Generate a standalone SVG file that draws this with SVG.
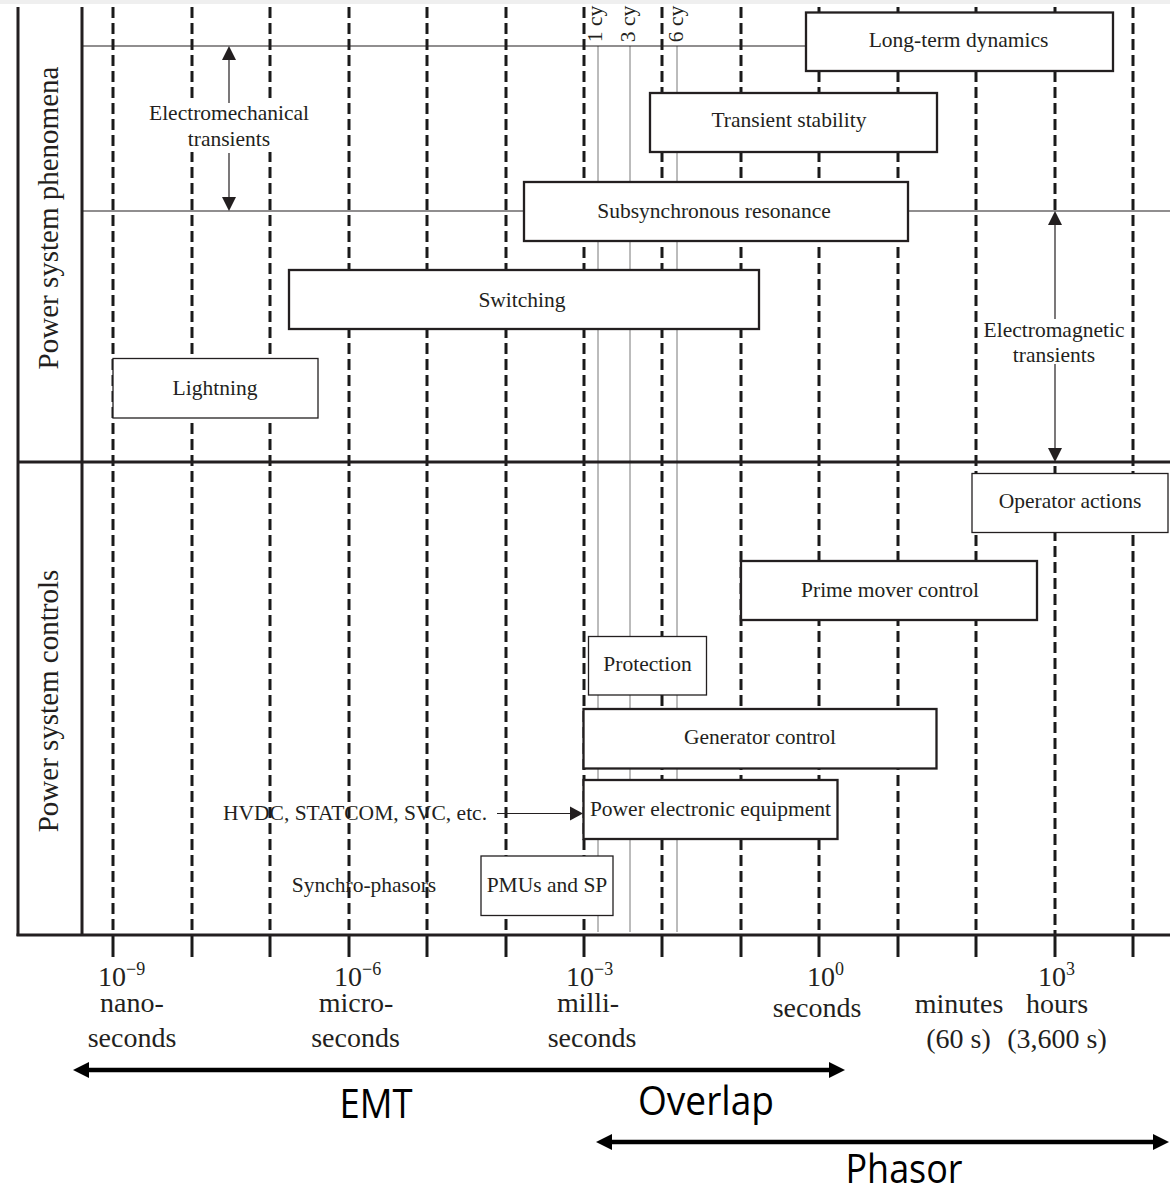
<svg xmlns="http://www.w3.org/2000/svg" width="1170" height="1192" viewBox="0 0 1170 1192">
<style>
.t{font-family:"Liberation Serif","Times New Roman",serif;font-size:21.5px;fill:#231f20;text-anchor:middle}
.ax{font-family:"Liberation Serif","Times New Roman",serif;font-size:28px;fill:#231f20;text-anchor:middle}
.axs{font-family:"Liberation Serif","Times New Roman",serif;font-size:28px;fill:#231f20}
.big{font-family:"Liberation Serif","Times New Roman",serif;font-size:29px;fill:#231f20;text-anchor:middle}
.sans{font-family:"Open Sans","Liberation Sans",sans-serif;font-size:40px;fill:#000}
.dash{stroke:#1a1a1a;stroke-width:3;stroke-dasharray:11 5;fill:none}
.tick{stroke:#1a1a1a;stroke-width:3}
.cy{stroke:#555;stroke-width:0.8}
.thin{stroke:#231f20;stroke-width:1.2;fill:none}
.heavy{stroke:#231f20;stroke-width:3;fill:none}
.bk{fill:#fff;stroke:#231f20;stroke-width:2.3}
.bl{fill:#fff;stroke:#231f20;stroke-width:1.3}
.ar{fill:#231f20}
</style>
<rect x="0" y="0" width="1170" height="1192" fill="#fff"/>
<rect x="0" y="0" width="1170" height="4" fill="#efefef"/>

<g id="grid">
  <g class="dash">
    <line x1="113" y1="7" x2="113" y2="935"/>
    <line x1="192" y1="7" x2="192" y2="935"/>
    <line x1="270" y1="7" x2="270" y2="935"/>
    <line x1="349" y1="7" x2="349" y2="935"/>
    <line x1="427" y1="7" x2="427" y2="935"/>
    <line x1="506" y1="7" x2="506" y2="935"/>
    <line x1="584" y1="7" x2="584" y2="935"/>
    <line x1="662" y1="7" x2="662" y2="935"/>
    <line x1="741" y1="7" x2="741" y2="935"/>
    <line x1="819" y1="7" x2="819" y2="935"/>
    <line x1="898" y1="7" x2="898" y2="935"/>
    <line x1="976" y1="7" x2="976" y2="935"/>
    <line x1="1055" y1="7" x2="1055" y2="211"/>
    <line x1="1055" y1="466" x2="1055" y2="935"/>
    <line x1="1133" y1="7" x2="1133" y2="935"/>
  </g>
  <g class="tick">
    <line x1="113" y1="935" x2="113" y2="957"/>
    <line x1="192" y1="935" x2="192" y2="957"/>
    <line x1="270" y1="935" x2="270" y2="957"/>
    <line x1="349" y1="935" x2="349" y2="957"/>
    <line x1="427" y1="935" x2="427" y2="957"/>
    <line x1="506" y1="935" x2="506" y2="957"/>
    <line x1="584" y1="935" x2="584" y2="957"/>
    <line x1="662" y1="935" x2="662" y2="957"/>
    <line x1="741" y1="935" x2="741" y2="957"/>
    <line x1="819" y1="935" x2="819" y2="957"/>
    <line x1="898" y1="935" x2="898" y2="957"/>
    <line x1="976" y1="935" x2="976" y2="957"/>
    <line x1="1055" y1="935" x2="1055" y2="957"/>
    <line x1="1133" y1="935" x2="1133" y2="957"/>
  </g>
  <g class="cy">
    <line x1="598" y1="46" x2="598" y2="932"/>
    <line x1="630" y1="46" x2="630" y2="932"/>
    <line x1="677" y1="46" x2="677" y2="932"/>
  </g>
  <text class="t" transform="translate(602,24) rotate(-90)">1 cy</text>
  <text class="t" transform="translate(635,24) rotate(-90)">3 cy</text>
  <text class="t" transform="translate(683,24) rotate(-90)">6 cy</text>
  <line class="thin" x1="82" y1="46" x2="806" y2="46"/>
  <line class="thin" x1="82" y1="211" x2="1170" y2="211"/>
  <line class="heavy" x1="18" y1="7" x2="18" y2="936"/>
  <line class="heavy" x1="82" y1="7" x2="82" y2="936"/>
  <line class="heavy" x1="18" y1="462" x2="1170" y2="462"/>
  <line class="heavy" x1="16.5" y1="935" x2="1170" y2="935"/>
</g>

<g id="section-labels">
  <text class="big" transform="translate(58,218) rotate(-90)">Power system phenomena</text>
  <text class="big" transform="translate(58,701) rotate(-90)">Power system controls</text>
</g>

<g id="long-term-dynamics"><rect class="bk" x="806" y="12.5" width="307" height="58.5"/><text class="t" x="958.5" y="47">Long-term dynamics</text></g>
<g id="transient-stability"><rect class="bk" x="650" y="93" width="287" height="59"/><text class="t" x="789" y="127">Transient stability</text></g>
<g id="subsynchronous-resonance"><rect class="bk" x="524" y="182" width="384" height="59"/><text class="t" x="714" y="218">Subsynchronous resonance</text></g>
<g id="switching"><rect class="bk" x="289" y="270" width="470" height="59"/><text class="t" x="522" y="307">Switching</text></g>
<g id="lightning"><rect class="bl" x="113" y="358.5" width="205" height="59.5"/><text class="t" x="215" y="395">Lightning</text></g>
<g id="operator-actions"><rect class="bl" x="972" y="473.5" width="196" height="59"/><text class="t" x="1070" y="508">Operator actions</text></g>
<g id="prime-mover-control"><rect class="bk" x="741" y="561" width="296" height="59"/><text class="t" x="890" y="597">Prime mover control</text></g>
<g id="protection"><rect class="bl" x="588.5" y="636.5" width="118" height="58.5"/><text class="t" x="647.5" y="671">Protection</text></g>
<g id="generator-control"><rect class="bk" x="583.5" y="709" width="353" height="59.5"/><text class="t" x="760" y="744">Generator control</text></g>
<g id="power-electronic-equipment"><rect class="bk" x="583.5" y="780" width="254" height="59"/><text class="t" x="710.5" y="816">Power electronic equipment</text></g>
<g id="pmus-and-sp"><rect class="bl" x="481" y="856" width="132" height="59.5"/><text class="t" x="547" y="892">PMUs and SP</text></g>

<g id="electromechanical-label">
  <rect x="145" y="99" width="168" height="53" fill="#fff"/>
  <text class="t" x="229" y="120">Electromechanical</text>
  <text class="t" x="229" y="146">transients</text>
</g>
<g id="electromagnetic-label">
  <text class="t" x="1054" y="337">Electromagnetic</text>
  <text class="t" x="1054" y="362">transients</text>
</g>
<g id="hvdc-label"><text class="t" x="355" y="820">HVDC, STATCOM, SVC, etc.</text></g>
<g id="synchro-phasors-label"><text class="t" x="364" y="892">Synchro-phasors</text></g>

<g id="connectors">
  <line class="thin" x1="229" y1="58" x2="229" y2="103"/>
  <line class="thin" x1="229" y1="153" x2="229" y2="199"/>
  <polygon class="ar" points="229,46 222,60 236,60"/>
  <polygon class="ar" points="229,211 222,197 236,197"/>
  <line class="thin" x1="1055" y1="222" x2="1055" y2="319"/>
  <line class="thin" x1="1055" y1="364" x2="1055" y2="450"/>
  <polygon class="ar" points="1055,211 1048,225 1062,225"/>
  <polygon class="ar" points="1055,462 1048,448 1062,448"/>
  <line class="thin" x1="497" y1="813.5" x2="572" y2="813.5"/>
  <polygon class="ar" points="583,813.5 570,806.5 570,820.5"/>
  <line stroke="#000" stroke-width="4.5" x1="86" y1="1070" x2="832" y2="1070"/>
  <polygon fill="#000" points="73,1070 89,1062 89,1078"/>
  <polygon fill="#000" points="845,1070 829,1062 829,1078"/>
  <line stroke="#000" stroke-width="4.5" x1="609" y1="1142" x2="1156" y2="1142"/>
  <polygon fill="#000" points="596,1142 612,1134 612,1150"/>
  <polygon fill="#000" points="1169,1142 1153,1134 1153,1150"/>
</g>

<g id="axis-labels">
  <text class="axs" x="98" y="986">10<tspan font-size="18" dy="-11">−9</tspan></text>
  <text class="ax" x="132" y="1012">nano-</text>
  <text class="ax" x="132" y="1047">seconds</text>
  <text class="axs" x="334" y="986">10<tspan font-size="18" dy="-11">−6</tspan></text>
  <text class="ax" x="356" y="1012">micro-</text>
  <text class="ax" x="355.5" y="1047">seconds</text>
  <text class="axs" x="566" y="986">10<tspan font-size="18" dy="-11">−3</tspan></text>
  <text class="ax" x="588" y="1012">milli-</text>
  <text class="ax" x="592" y="1047">seconds</text>
  <text class="axs" x="807" y="986">10<tspan font-size="18" dy="-11">0</tspan></text>
  <text class="ax" x="817" y="1017">seconds</text>
  <text class="ax" x="959" y="1013">minutes</text>
  <text class="ax" x="958.5" y="1048">(60 s)</text>
  <text class="axs" x="1038" y="986">10<tspan font-size="18" dy="-11">3</tspan></text>
  <text class="ax" x="1057" y="1013">hours</text>
  <text class="ax" x="1057" y="1048">(3,600 s)</text>
</g>

<g id="method-labels">
  <text class="sans" x="339.5" y="1118" textLength="73" lengthAdjust="spacingAndGlyphs">EMT</text>
  <text class="sans" x="638" y="1115" textLength="136" lengthAdjust="spacingAndGlyphs">Overlap</text>
  <text class="sans" x="845.5" y="1183" font-size="38" textLength="117" lengthAdjust="spacingAndGlyphs">Phasor</text>
</g>
</svg>
